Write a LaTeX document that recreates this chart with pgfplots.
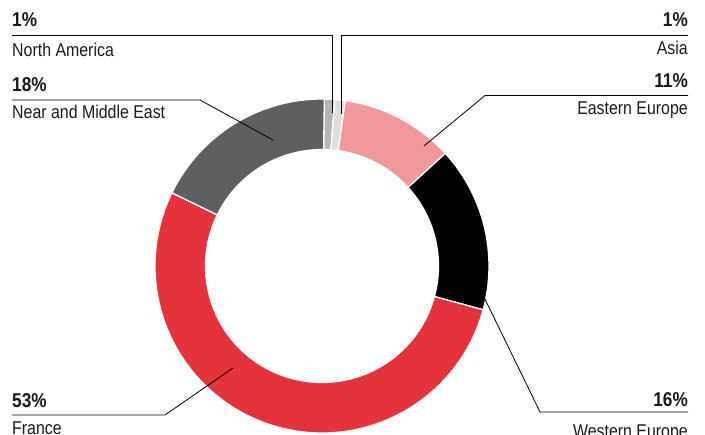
\documentclass[border=0pt]{standalone}
\usepackage{pgfplots}
\pgfplotsset{compat=1.18}
\usepackage{fontspec}
\setmainfont{Liberation Sans}[FakeStretch=0.86]
\definecolor{cNA}{HTML}{B4B5B6}
\definecolor{cAsia}{HTML}{DCDDDE}
\definecolor{cEE}{HTML}{F1989B}
\definecolor{cWE}{HTML}{000000}
\definecolor{cFR}{HTML}{E4333A}
\definecolor{cNME}{HTML}{5E5F61}
\definecolor{txt}{HTML}{1A1A1A}
% one donut slice of #1 percent in colour #2, clockwise from \angA
\newcommand\slice[2]{%
  \pgfmathsetmacro\angB{\angA-3.6*#1}%
  \edef\doslice{\noexpand\fill[#2, draw=white, line width=1.3pt]
    (axis cs:322,266) ++(\angA:167pt) arc[start angle=\angA, end angle=\angB, radius=167pt]
    -- ++(\angB:-50.5pt) arc[start angle=\angB, end angle=\angA, radius=116.5pt] -- cycle;}%
  \doslice
  \xdef\angA{\angB}}
\begin{document}
\begin{tikzpicture}
\begin{axis}[
  name=ax,
  scale only axis,
  width=705pt, height=435pt,
  xmin=0, xmax=705, ymin=0, ymax=435,
  y dir=reverse,
  hide axis,
  clip=false,
]
% donut: shares in percent, clockwise from just right of the top
\xdef\angA{89.2}
\foreach \p/\slicecol in {1/cNA,1/cAsia,11/cEE,16/cWE,53/cFR,18/cNME}{
  \slice{\p}{\slicecol}
}
% leader lines
\begin{scope}[line width=0.8pt, black]
\draw (axis cs:12,35.5) -- (axis cs:332,35.5) -- (axis cs:332,113);
\draw (axis cs:688,35.5) -- (axis cs:341,35.5) -- (axis cs:341,114);
\draw (axis cs:12,100) -- (axis cs:200,100) -- (axis cs:273,140);
\draw (axis cs:688,95.5) -- (axis cs:485,95.5) -- (axis cs:424,146);
\draw (axis cs:12,415) -- (axis cs:165,415) -- (axis cs:233,368);
\draw (axis cs:688,412) -- (axis cs:540,412) -- (axis cs:483,295);
\end{scope}
% labels
\begin{scope}[every node/.style={inner sep=0pt, text=txt}]
\node[anchor=base west, font=\fontsize{20}{22}\selectfont\bfseries] at (axis cs:12,27) {1\%};
\node[anchor=base west, font=\fontsize{18.5}{20}\selectfont] at (axis cs:12,56.5) {North America};
\node[anchor=base west, font=\fontsize{20}{22}\selectfont\bfseries] at (axis cs:12,91.5) {18\%};
\node[anchor=base west, font=\fontsize{18.5}{20}\selectfont] at (axis cs:12,119) {Near and Middle East};
\node[anchor=base east, font=\fontsize{20}{22}\selectfont\bfseries] at (axis cs:688,26.7) {1\%};
\node[anchor=base east, font=\fontsize{18.5}{20}\selectfont] at (axis cs:688,55) {Asia};
\node[anchor=base east, font=\fontsize{20}{22}\selectfont\bfseries] at (axis cs:688,87.7) {11\%};
\node[anchor=base east, font=\fontsize{18.5}{20}\selectfont] at (axis cs:688,115) {Eastern Europe};
\node[anchor=base west, font=\fontsize{20}{22}\selectfont\bfseries] at (axis cs:12,407.3) {53\%};
\node[anchor=base west, font=\fontsize{18.5}{20}\selectfont] at (axis cs:12,434.5) {France};
\node[anchor=base east, font=\fontsize{20}{22}\selectfont\bfseries] at (axis cs:688,406.7) {16\%};
\node[anchor=base east, font=\fontsize{18.5}{20}\selectfont] at (axis cs:688,437.5) {Western Europe};
\end{scope}
\end{axis}
\pgfresetboundingbox
\useasboundingbox (ax.south west) rectangle (ax.north east);
\end{tikzpicture}
\end{document}
